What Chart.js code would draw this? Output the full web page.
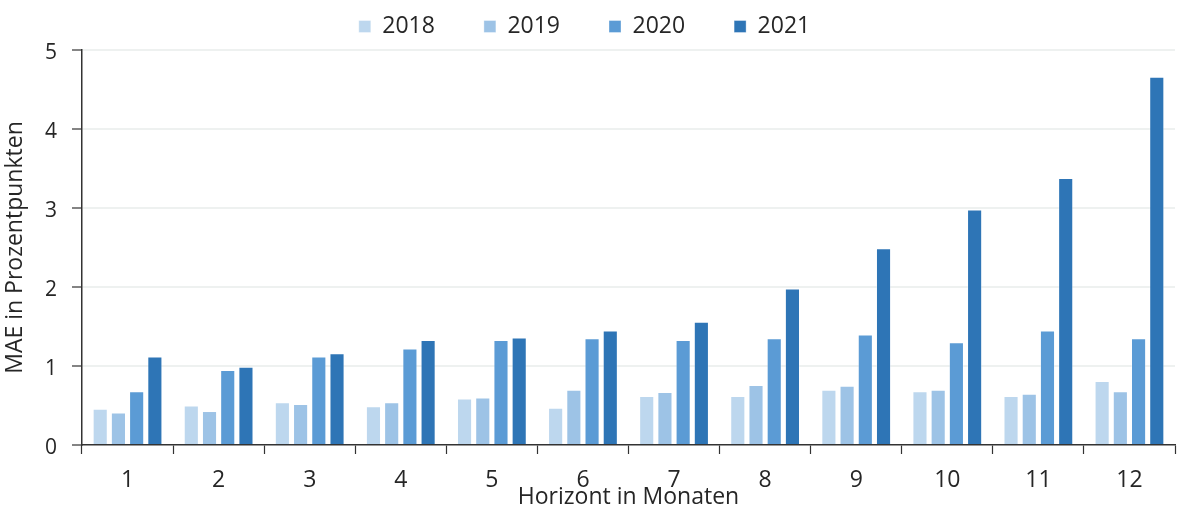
<!DOCTYPE html>
<html>
<head>
<meta charset="utf-8">
<script src="https://cdn.jsdelivr.net/npm/chart.js@4"></script>
<style>
  body { margin: 0; background: #fff; }
  #wrap { width: 1179px; height: 516px; position: relative; }
</style>
</head>
<body>
<div id="wrap"><canvas id="chart"></canvas></div>
<script>
const horizons = ['1', '2', '3', '4', '5', '6', '7', '8', '9', '10', '11', '12'];
const years = ['2018', '2019', '2020', '2021'];
const mae2018 = [0.46, 0.50, 0.54, 0.49, 0.59, 0.47, 0.62, 0.62, 0.70, 0.68, 0.62, 0.81];
const mae2019 = [0.41, 0.43, 0.52, 0.54, 0.60, 0.70, 0.67, 0.76, 0.75, 0.70, 0.65, 0.68];
const mae2020 = [0.68, 0.95, 1.12, 1.22, 1.33, 1.35, 1.33, 1.35, 1.40, 1.30, 1.45, 1.35];
const mae2021 = [1.12, 0.99, 1.16, 1.33, 1.36, 1.45, 1.56, 1.98, 2.49, 2.98, 3.38, 4.66];
const yTicks = [0, 1, 2, 3, 4, 5];

const colors = ['#BDD7EE', '#9DC3E6', '#5B9BD5', '#2E75B6'];
const series = [mae2018, mae2019, mae2020, mae2021];
const textColor = '#262626';
const font = 'Open Sans';

// legend is laid out with wide item spacing; pull its drawing origin back up
const legendShift = {
    id: 'legendShift',
    afterLayout(chart) {
        const lg = chart.legend;
        if (!lg) return;
        lg.top -= 41;
        lg.left -= 3;
        lg.right -= 3;
    }
};

new Chart(document.getElementById('chart'), {
    type: 'bar',
    data: {
        labels: horizons,
        datasets: years.map((y, i) => ({
            label: y,
            data: series[i],
            backgroundColor: colors[i],
            borderColor: 'rgba(255,255,255,0.35)',
            borderWidth: 1,
            categoryPercentage: 0.8,
            barPercentage: 0.83
        }))
    },
    options: {
        responsive: true,
        maintainAspectRatio: false,
        animation: false,
        layout: { padding: { top: 7, right: 4, left: 0, bottom: 0 } },
        plugins: {
            tooltip: { enabled: false },
            legend: {
                position: 'top',
                maxHeight: 43,
                labels: {
                    boxWidth: 12,
                    boxHeight: 12,
                    padding: 49,
                    color: textColor,
                    font: { family: font, size: 23 }
                }
            }
        },
        scales: {
            x: {
                grid: {
                    offset: true,
                    drawOnChartArea: false,
                    tickLength: 9,
                    tickColor: '#333',
                    tickWidth: 1.2
                },
                border: { color: '#333', width: 1.5 },
                ticks: {
                    padding: 13,
                    color: textColor,
                    font: { family: font, size: 23 }
                },
                title: {
                    display: true,
                    text: 'Horizont in Monaten',
                    color: textColor,
                    font: { family: font, size: 23 },
                    padding: { top: 0, bottom: 5 }
                },
                afterFit(scale) {
                    scale.height = 71;
                    scale.paddingLeft = 0;
                    scale.paddingRight = 0;
                }
            },
            y: {
                min: 0,
                max: 5,
                afterBuildTicks(scale) {
                    scale.ticks = yTicks.map(v => ({ value: v }));
                },
                grid: {
                    color: ctx => (ctx.tick && ctx.tick.value === 0) ? 'rgba(0,0,0,0)' : '#eef1f0',
                    lineWidth: 2,
                    tickLength: 10,
                    tickColor: '#333',
                    tickWidth: 1.2
                },
                border: { color: '#333', width: 1.5 },
                ticks: {
                    padding: 15,
                    labelOffset: 3,
                    color: textColor,
                    font: { family: font, size: 21 }
                },
                title: {
                    display: true,
                    text: 'MAE in Prozentpunkten',
                    color: textColor,
                    font: { family: font, size: 23 },
                    padding: { top: 2, bottom: 0 }
                },
                afterFit(scale) {
                    scale.width = 82;
                    scale.paddingTop = 0;
                    scale.paddingBottom = 0;
                }
            }
        }
    },
    plugins: [legendShift]
});
</script>
</body>
</html>
